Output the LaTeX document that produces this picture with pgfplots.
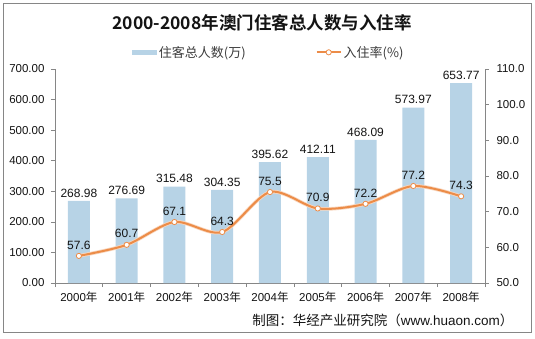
\documentclass[border=0pt]{standalone}
\usepackage{pgfplots}
\pgfplotsset{compat=1.18}
\usepackage{fontspec}
\setmainfont{Liberation Sans}
\newfontfamily\cjk{Noto Sans CJK SC}[BoldFont={Noto Sans CJK SC Bold}]
\definecolor{barblue}{RGB}{183,211,230}
\definecolor{lineorange}{RGB}{236,140,72}
\definecolor{axgray}{RGB}{134,134,134}
\definecolor{txt}{RGB}{20,20,20}
\definecolor{legtxt}{RGB}{60,60,60}
\begin{document}
\begin{tikzpicture}
\useasboundingbox (-55pt,-55pt) rectangle (480pt,283pt);
\draw[axgray, line width=0.8pt] (-52pt,-49pt) rectangle (476pt,280pt);
\begin{axis}[
  at={(0pt,0pt)}, anchor=south west,
  scale only axis, width=430pt, height=214pt,
  xmin=-0.5, xmax=8.5, ymin=0, ymax=700,
  axis y line*=left, axis x line*=bottom,
  axis line style={axgray, line width=0.6pt},
  tick align=outside,
  xtick={0,...,8},
  xticklabels={2000{\cjk 年},2001{\cjk 年},2002{\cjk 年},2003{\cjk 年},2004{\cjk 年},2005{\cjk 年},2006{\cjk 年},2007{\cjk 年},2008{\cjk 年}},
  major x tick style={draw=none},
  minor xtick={-0.5,0.5,...,8.5},
  minor x tick style={axgray, line width=0.6pt},
  minor tick length=4pt,
  ytick={0,100,...,700},
  y tick style={axgray, line width=0.6pt},
  major tick length=4pt,
  yticklabel style={xshift=-3pt, /pgf/number format/.cd, fixed, fixed zerofill, precision=2, assume math mode=true},
  scaled y ticks=false,
  tick label style={font=\fontsize{11.5}{13}\selectfont, text=txt},
  xticklabel style={yshift=-1pt},
  ybar, bar width=22pt,
  nodes near coords,
  every node near coord/.append style={font=\fontsize{12}{14}\selectfont, text=txt, /pgf/number format/.cd, fixed, fixed zerofill, precision=2, assume math mode=true},
  legend style={at={(0.497,1.078)}, anchor=center, draw=none, fill=none, font=\cjk\fontsize{13}{15}\selectfont, text=legtxt, legend columns=2, /tikz/every even column/.append style={column sep=68pt}},
  legend cell align=left,
]
\addplot[fill=barblue, draw=none, legend image code/.code={\fill[barblue] (0pt,-2.5pt) rectangle (25pt,2.5pt);}] coordinates {(0,268.98) (1,276.69) (2,315.48) (3,304.35) (4,395.62) (5,412.11) (6,468.09) (7,573.97) (8,653.77)};
\addlegendentry{住客总人数(万)}
\addlegendimage{legend image code/.code={\draw[lineorange, line width=2pt] (0pt,0pt) -- (24pt,0pt); \draw[lineorange, fill=white, line width=0.8pt] (12pt,0pt) circle (2.6pt);}}
\addlegendentry{入住率(\%)}
\end{axis}
\begin{axis}[
  at={(0pt,0pt)}, anchor=south west,
  scale only axis, width=430pt, height=214pt,
  xmin=-0.5, xmax=8.5, ymin=50, ymax=110,
  axis y line*=right, axis x line=none,
  axis line style={axgray, line width=0.6pt},
  tick align=outside,
  ytick={50,60,...,110},
  y tick style={axgray, line width=0.6pt},
  major tick length=4pt,
  yticklabel style={xshift=4pt, /pgf/number format/.cd, fixed, fixed zerofill, precision=1, assume math mode=true},
  tick label style={font=\fontsize{11.5}{13}\selectfont, text=txt},
]
\addplot[lineorange!35, line width=3.6pt, smooth, tension=0.5, forget plot] coordinates {(0,57.6) (1,60.7) (2,67.1) (3,64.3) (4,75.5) (5,70.9) (6,72.2) (7,77.2) (8,74.3)};
\addplot[lineorange, line width=2pt, smooth, tension=0.5, mark=*, mark size=2.6pt, mark options={fill=white, draw=lineorange, line width=0.8pt},
  nodes near coords, every node near coord/.append style={font=\fontsize{12}{14}\selectfont, text=txt, yshift=3pt, /pgf/number format/.cd, fixed, fixed zerofill, precision=1, assume math mode=true}]
  coordinates {(0,57.6) (1,60.7) (2,67.1) (3,64.3) (4,75.5) (5,70.9) (6,72.2) (7,77.2) (8,74.3)};
\end{axis}
\node[font=\cjk\bfseries\fontsize{17.5}{20}\selectfont, text=txt] at (207pt,260pt) {2000-2008年澳门住客总人数与入住率};
\node[anchor=east, font=\fontsize{13.5}{15}\selectfont, text=txt] at (462pt,-37pt) {{\cjk 制图：华经产业研究院（}www.huaon.com{\cjk ）}};
\end{tikzpicture}
\end{document}
